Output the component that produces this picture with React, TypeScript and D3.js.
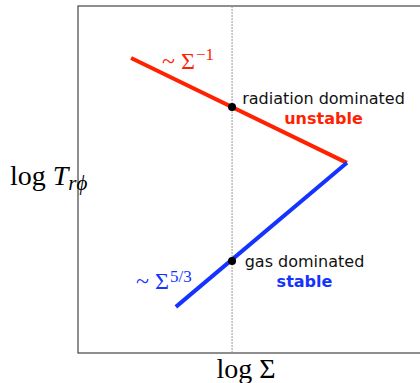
import React from 'react';
import * as d3 from 'd3';

// schematic S-curve in (log Sigma, log T) units
const radiationBranch = [
  { logSigma: 1.53, logT: 8.5 },
  { logSigma: 7.75, logT: 5.48 },
];
const gasBranch = [
  { logSigma: 7.75, logT: 5.48 },
  { logSigma: 2.82, logT: 1.33 },
];
const markerSigma = 4.44;
const markers = [
  { logSigma: 4.44, logT: 7.09 },
  { logSigma: 4.44, logT: 2.65 },
];

const W = 420;
const H = 383;
const frame = { left: 78, top: 6, right: 425, bottom: 353 };

const RED = '#ff2200';
const BLUE = '#1533ff';

const App = () => {
  const x = d3.scaleLinear().domain([0, 10]).range([frame.left, frame.right]);
  const y = d3.scaleLinear().domain([0, 10]).range([frame.bottom, frame.top]);

  const line = d3.line<{ logSigma: number; logT: number }>()
    .x(d => x(d.logSigma))
    .y(d => y(d.logT));

  const serif = '"Liberation Serif", "Times New Roman", serif';
  const sans = '"DejaVu Sans", sans-serif';

  return (
    <svg width={W} height={H} style={{ position: 'absolute', left: 0, top: 0, background: '#fff' }}>
      {/* frame */}
      <rect x={frame.left} y={frame.top} width={frame.right - frame.left} height={frame.bottom - frame.top}
        fill="none" stroke="#444" strokeWidth={1.2} />
      {/* dotted reference */}
      <line x1={x(markerSigma)} x2={x(markerSigma)} y1={frame.top} y2={frame.bottom}
        stroke="#999" strokeWidth={1} strokeDasharray="2,1" />

      <path d={line(radiationBranch) || ''} fill="none" stroke={RED} strokeWidth={4} />
      <path d={line(gasBranch) || ''} fill="none" stroke={BLUE} strokeWidth={4} />

      {markers.map((m, i) => (
        <circle key={i} cx={x(m.logSigma)} cy={y(m.logT)} r={4} fill="#000" />
      ))}

      {/* power-law labels */}
      <text x={162} y={69} fill={RED} fontFamily={serif} fontSize={24}>
        ~ Σ<tspan dx={1} dy={-9} fontSize={17}>−1</tspan>
      </text>
      <text x={136} y={289} fill={BLUE} fontFamily={serif} fontSize={24}>
        ~ Σ<tspan dx={1} dy={-7} fontSize={17}>5/3</tspan>
      </text>

      {/* regime labels */}
      <text x={323.5} y={104} textAnchor="middle" fontFamily={sans} fontSize={16} fill="#111">radiation dominated</text>
      <text x={323.5} y={124} textAnchor="middle" fontFamily={sans} fontSize={16} fontWeight="bold" fill={RED}>unstable</text>
      <text x={304.5} y={267} textAnchor="middle" fontFamily={sans} fontSize={16} fill="#111">gas dominated</text>
      <text x={304.5} y={287} textAnchor="middle" fontFamily={sans} fontSize={16} fontWeight="bold" fill={BLUE}>stable</text>

      {/* axis labels */}
      <text x={10} y={185} fontFamily={serif} fontSize={28} fill="#000">
        log <tspan fontStyle="italic">T</tspan>
        <tspan fontStyle="italic" fontSize={21} dy={5}>rϕ</tspan>
      </text>
      <text x={246} y={378} textAnchor="middle" fontFamily={serif} fontSize={28} fill="#000">log Σ</text>
    </svg>
  );
};

export default App;
